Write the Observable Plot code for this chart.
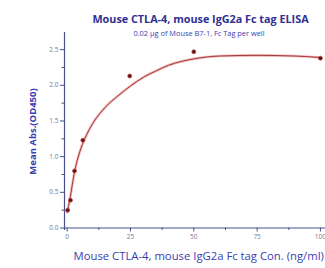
<!DOCTYPE html>
<html>
<head>
<meta charset="utf-8">
<script src="https://cdn.jsdelivr.net/npm/d3@7"></script>
<script src="https://cdn.jsdelivr.net/npm/@observablehq/plot@0.6"></script>
<style>
  html, body { margin: 0; padding: 0; background: #fff; overflow: hidden; }
  #chart svg { display: block; }
</style>
</head>
<body>
<div id="chart"></div>
<script>
// Measured points (concentration ng/ml, mean absorbance OD450)
const conc = [0.2, 1.3, 2.9, 6.2, 24.7, 50, 100];
const absorb = [0.25, 0.39, 0.80, 1.23, 2.13, 2.47, 2.38];
// Fitted curve
const fitX = [0, 0.5, 1, 2, 3, 4, 5, 6, 8, 10, 15, 20, 25, 30, 35, 40, 50, 60, 75, 90, 100];
const fitY = [0.22, 0.30, 0.39, 0.60, 0.80, 0.95, 1.07, 1.17, 1.33, 1.46, 1.69, 1.85, 1.99, 2.11, 2.20, 2.28, 2.37, 2.41, 2.42, 2.41, 2.39];
// Axis ticks
const xTicks = [0, 25, 50, 75, 100];
const xMinor = [12.5, 37.5, 62.5, 87.5];
const yTicks = [0, 0.5, 1.0, 1.5, 2.0, 2.5];
const yMinor = [0.25, 0.75, 1.25, 1.75, 2.25];
const xDomain = [-1.05, 102];
const yDomain = [-0.035, 2.74];
// Texts
const title = "Mouse CTLA-4, mouse IgG2a Fc tag ELISA";
const subtitle = "0.02 µg of Mouse B7-1, Fc Tag per well";
const xLabel = "Mouse CTLA-4, mouse IgG2a Fc tag Con. (ng/ml)";
const yLabel = "Mean Abs.(OD450)";

const pts = conc.map((c, i) => ({x: c, y: absorb[i]}));
const fit = fitX.map((c, i) => ({x: c, y: fitY[i]}));

const axisColor = "#4a4f8c";
const labelColor = "#3a3db0";
const tickText = "#777a96";

const chart = Plot.plot({
  width: 325,
  height: 268,
  marginLeft: 64,
  marginRight: 0,
  marginTop: 32,
  marginBottom: 38,
  style: {fontFamily: "'Open Sans', sans-serif", background: "#fff", overflow: "hidden"},
  x: {type: "linear", domain: xDomain, axis: null},
  y: {type: "linear", domain: yDomain, axis: null},
  marks: [
    // axis lines
    Plot.ruleX([xDomain[0]], {stroke: axisColor, strokeWidth: 1.2}),
    Plot.ruleY([0], {stroke: axisColor, strokeWidth: 1.2}),
    // major/minor ticks
    Plot.axisY({ticks: yTicks, tickSize: 4, tickFormat: d3.format(".1f"), stroke: axisColor, fill: tickText, fontSize: 6.5, tickPadding: 2, label: null, anchor: "left"}),
    Plot.axisY({ticks: yMinor, tickSize: 2.5, tickFormat: () => "", stroke: axisColor, label: null, anchor: "left"}),
    Plot.axisX({ticks: xTicks, tickSize: 4, tickFormat: d => String(d), stroke: axisColor, fill: tickText, fontSize: 6.5, tickPadding: 2, label: null, anchor: "bottom", dy: -2.5}),
    Plot.axisX({ticks: xMinor, tickSize: 2.5, tickFormat: () => "", stroke: axisColor, label: null, anchor: "bottom", dy: -2.5}),
    // fitted curve
    Plot.line(fit, {x: "x", y: "y", curve: "monotone-x", stroke: "#f2b8b8", strokeWidth: 2.6}),
    Plot.line(fit, {x: "x", y: "y", curve: "monotone-x", stroke: "#a33a3a", strokeWidth: 1}),
    // points
    Plot.dot(pts, {x: "x", y: "y", r: 2, fill: "#4a1818", stroke: "#d04545", strokeWidth: 0.8}),
    // titles
    Plot.text([title], {frameAnchor: "top", dy: -17, dx: 5.5, fontSize: 10.8, fontWeight: "bold", fill: "#2e3192", textAnchor: "middle"}),
    Plot.text([subtitle], {frameAnchor: "top", dy: -2, dx: 4, fontSize: 7.4, fill: "#3a3db0", textAnchor: "middle"}),
    Plot.text([yLabel], {frameAnchor: "left", dx: -32, dy: 0, rotate: -90, fontSize: 9.5, fontWeight: "bold", fill: labelColor, textAnchor: "middle"}),
    Plot.text([xLabel], {frameAnchor: "bottom-left", dx: 9, dy: 29, fontSize: 11.3, fill: labelColor, textAnchor: "start"})
  ]
});
document.getElementById("chart").appendChild(chart);
</script>
</body>
</html>
